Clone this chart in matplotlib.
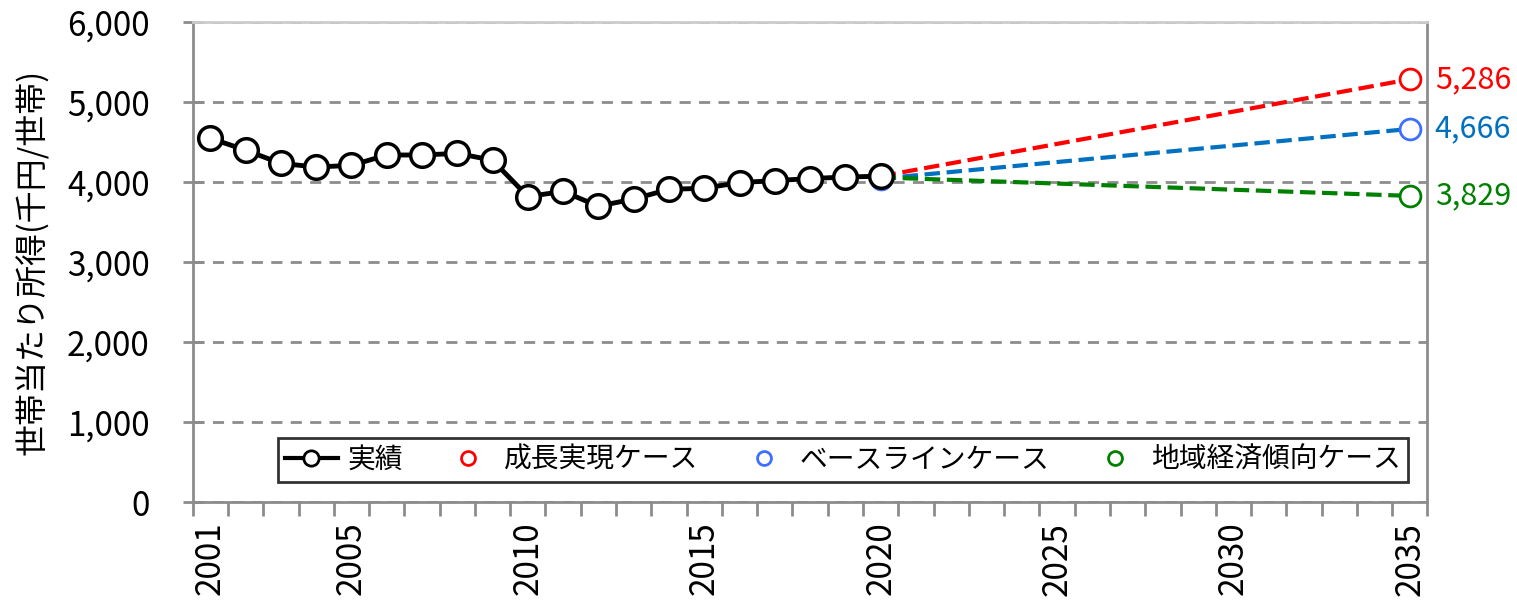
import numpy as np
import matplotlib
matplotlib.use('Agg')
from matplotlib import pyplot as plt
from matplotlib.lines import Line2D
from matplotlib.ticker import FuncFormatter

plt.rcParams['font.family'] = ['Noto Sans CJK JP', 'DejaVu Sans']

# 実績
anios = list(range(2001, 2021))
ingreso = [4550, 4400, 4235, 4190, 4210, 4340, 4340, 4360, 4275,
           3820, 3885, 3700, 3790, 3910, 3925, 3995, 4020, 4045, 4065, 4075]

# 将来推計 (2020 -> 2035)
anios_proy = [2020, 2035]
crecimiento = [4075, 5286]
base = [4045, 4666]
regional = [4060, 3829]

etiquetas_x = [2001, 2005, 2010, 2015, 2020, 2025, 2030, 2035]
gris = '#8c8c8c'

fig = plt.figure(figsize=(15.17, 6.0), dpi=100)
ax = fig.add_axes([0.127, 0.163, 0.814, 0.800])

ax.plot(anios_proy, crecimiento, '--', color='#ff0000', lw=3, zorder=2)
ax.plot(anios_proy, base, '--', color='#0070c0', lw=3, zorder=2)
ax.plot(anios_proy, regional, '--', color='#008000', lw=3, zorder=2)
ax.plot(anios_proy[1:], crecimiento[1:], 'o', mfc='white', mec='#ff0000', mew=2, ms=15, zorder=3)
ax.plot(anios_proy, base, 'o', mfc='white', mec='#3f6fff', mew=2, ms=15, zorder=3)
ax.plot(anios_proy[1:], regional[1:], 'o', mfc='white', mec='#008000', mew=2, ms=15, zorder=3)

ax.plot(anios, ingreso, '-o', color='black', lw=3.5, mfc='white', mec='black',
        mew=2.5, ms=17, zorder=4)

for v, c in [(crecimiento[1], '#ff0000'), (base[1], '#0070c0'), (regional[1], '#008000')]:
    ax.annotate(f'{v:,}', (2035, v), xytext=(18, 0), textcoords='offset points',
                va='center', ha='left', fontsize=22, color=c, annotation_clip=False)

ax.set_xlim(2000.5, 2035.5)
ax.set_ylim(0, 6000)
ax.set_yticks(np.arange(0, 6001, 1000))
ax.yaxis.set_major_formatter(FuncFormatter(lambda v, p: f'{int(v):,}'))
ax.tick_params(axis='y', labelsize=24, length=14, width=2, color=gris, direction='inout', pad=24)

ax.set_xticks(np.arange(2000.5, 2035.6, 1.0))
ax.set_xticklabels([])
ax.tick_params(axis='x', length=10, width=2, color=gris, direction='out')
ax.set_xticks(etiquetas_x, minor=True)
ax.set_xticklabels([str(e) for e in etiquetas_x], minor=True, rotation=90, fontsize=24)
ax.tick_params(axis='x', which='minor', length=0, pad=14)

ax.grid(axis='y', linestyle=(0, (4, 3)), color=gris, lw=2)
for s in ['left', 'bottom', 'right']:
    ax.spines[s].set_color(gris)
    ax.spines[s].set_linewidth(2)
ax.spines['top'].set_color('#cccccc')
ax.spines['top'].set_linewidth(2)

ax.set_ylabel('世帯当たり所得(千円/世帯)', fontsize=23)
ax.yaxis.set_label_coords(-0.116, 0.5)

elementos = [
    Line2D([], [], color='black', lw=3, marker='o', mfc='white', mec='black', mew=2, ms=11),
    Line2D([], [], ls='none', marker='o', mfc='white', mec='#ff0000', mew=2, ms=10),
    Line2D([], [], ls='none', marker='o', mfc='white', mec='#3f6fff', mew=2, ms=10),
    Line2D([], [], ls='none', marker='o', mfc='white', mec='#008000', mew=2, ms=10),
]
nombres = ['実績', '成長実現ケース', 'ベースラインケース', '地域経済傾向ケース']
leg = ax.legend(elementos, nombres, ncol=4, loc='lower right', bbox_to_anchor=(0.984, 0.042),
                borderaxespad=0, fontsize=20, frameon=True, fancybox=False, edgecolor='black',
                handlelength=1.9, columnspacing=1.4, borderpad=0.25, handletextpad=0.35)
leg.get_frame().set_linewidth(2)
leg.set_zorder(5)

plt.savefig('out.png', dpi=100)
